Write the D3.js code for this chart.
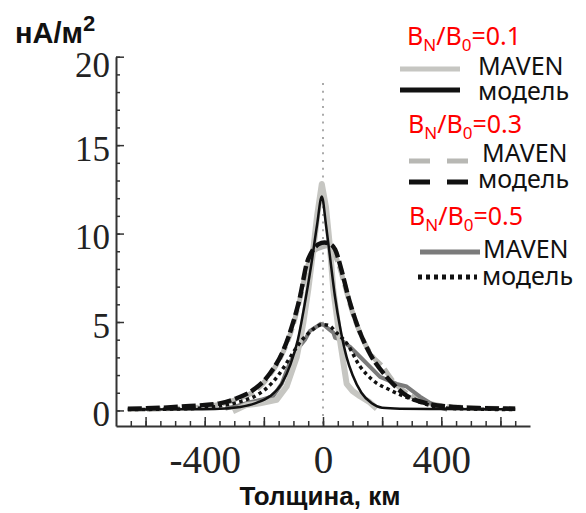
<!DOCTYPE html>
<html>
<head>
<meta charset="utf-8">
<script src="https://cdn.jsdelivr.net/npm/d3@7"></script>
<style>
  body { margin: 0; background: #fff; }
  svg { display: block; }
</style>
</head>
<body>
<div id="chart"></div>
<script>
var width = 586,
    height = 513;

// thickness in km and current density in nA/m^2
var maven01X = [-305, -260, -213, -157, -123, -89, -67, -50, -35, -20, -4, 10, 22, 35, 57, 80, 100, 125, 155, 182];
var maven01Y = [-0.05, 0.3, 0.4, 0.6, 1.35, 3.0, 4.9, 6.8, 8.8, 11.0, 12.8, 11.5, 9.5, 6.8, 4.0, 1.5, 1.1, 0.8, 0.5, 0.1];

var model01X = [-660, -450, -350, -280, -230, -180, -140, -110, -85, -62, -40, -20, -4, 10, 25, 40, 60, 80, 100, 130, 165, 200, 260, 400, 650];
var model01Y = [0.05, 0.07, 0.1, 0.2, 0.4, 0.8, 1.5, 2.6, 4.0, 6.0, 8.2, 10.5, 12.1, 10.5, 8.5, 6.5, 4.5, 3.0, 2.0, 1.0, 0.4, 0.15, 0.1, 0.08, 0.06];

var maven03X = [-660, -450, -350, -280, -230, -180, -135, -105, -78, -55, -30, -10, 10, 30, 50, 70, 95, 125, 165, 200, 240, 290, 350, 440, 650];
var maven03Y = [0.05, 0.15, 0.35, 0.7, 1.1, 2.0, 3.3, 4.6, 6.3, 8.0, 9.0, 9.2, 9.3, 9.1, 8.4, 7.3, 5.8, 4.4, 3.1, 2.5, 1.6, 0.9, 0.45, 0.2, 0.1];

var model03X = [-660, -550, -450, -350, -290, -236, -179, -134, -106, -78, -55, -33, -15, 5, 25, 41, 63, 86, 114, 159, 215, 271, 350, 440, 550, 650];
var model03Y = [0.1, 0.15, 0.25, 0.4, 0.7, 1.16, 2.1, 3.4, 4.7, 6.4, 8.3, 9.1, 9.4, 9.5, 9.4, 9.1, 7.9, 6.4, 4.9, 3.2, 1.9, 0.97, 0.4, 0.2, 0.12, 0.1];

var maven05X = [-330, -290, -250, -210, -169, -140, -112, -85, -61, -44, -25, -8, 5, 20, 35, 41, 60, 91, 136, 193, 249, 283, 328, 384, 420];
var maven05Y = [0.1, 0.25, 0.45, 0.6, 0.8, 1.5, 2.7, 3.5, 4.0, 4.5, 4.7, 4.9, 4.8, 4.6, 4.4, 4.1, 4.0, 3.6, 2.85, 1.9, 1.5, 1.35, 0.78, 0.2, 0.05];

var model05X = [-660, -450, -350, -280, -220, -170, -130, -100, -70, -40, -15, 0, 20, 45, 80, 125, 169, 226, 305, 384, 450, 650];
var model05Y = [0.05, 0.1, 0.25, 0.5, 0.9, 1.6, 2.5, 3.3, 4.0, 4.5, 4.8, 4.85, 4.8, 4.4, 3.8, 2.5, 1.7, 1.16, 0.6, 0.2, 0.1, 0.05];

var yMajorTicks = [0, 5, 10, 15, 20];
var xMajorTicks = [-600, -400, -200, 0, 200, 400, 600];
var xTickLabels = [-400, 0, 400];

var legendTitles = ["0.1", "0.3", "0.5"];
var legendNames = ["MAVEN", "модель"];

function zip(xs, ys) {
  return xs.map(function(x, i) { return { x: x, y: ys[i] }; });
}

// drawn bottom to top
var series = [
  { data: zip(maven03X, maven03Y), color: "#b8b8b4", width: 5, dash: "14,5", smooth: true },
  { data: zip(maven05X, maven05Y), color: "#7b7b7b", width: 4, dash: null, smooth: false },
  { data: zip(maven01X, maven01Y), color: "#c6c6c2", width: 6, dash: null, smooth: false },
  { data: zip(model05X, model05Y), color: "#111", width: 3.5, dash: "3.5,3.5", smooth: true },
  { data: zip(model03X, model03Y), color: "#111", width: 4.5, dash: "14,4", smooth: true },
  { data: zip(model01X, model01Y), color: "#111", width: 2.5, dash: null, smooth: true }
];

var x = d3.scaleLinear().domain([-700, 700]).range([116, 530]);
var y = d3.scaleLinear().domain([-0.88, 20]).range([426, 56.7]);

var svg = d3.select("#chart").append("svg")
    .attr("width", width)
    .attr("height", height);

// zero line
svg.append("line")
    .attr("x1", x(0)).attr("x2", x(0))
    .attr("y1", 83).attr("y2", y.range()[0])
    .attr("stroke", "#aaa")
    .attr("stroke-width", 2)
    .attr("stroke-dasharray", "2,5.7");

// curves
var lineSmooth = d3.line().x(function(d) { return x(d.x); }).y(function(d) { return y(d.y); }).curve(d3.curveMonotoneX);
var lineRough = d3.line().x(function(d) { return x(d.x); }).y(function(d) { return y(d.y); }).curve(d3.curveLinear);

svg.append("g").selectAll("path")
    .data(series)
    .enter().append("path")
    .attr("d", function(d) { return (d.smooth ? lineSmooth : lineRough)(d.data); })
    .attr("fill", "none")
    .attr("stroke", function(d) { return d.color; })
    .attr("stroke-width", function(d) { return d.width; })
    .attr("stroke-dasharray", function(d) { return d.dash; })
    .attr("stroke-linejoin", "round");

// axes: ticks point into the plot
var yMinor = d3.range(0, 21, 1);
var xMinor = d3.range(-650, 651, 50);

svg.append("g")
    .attr("transform", "translate(" + x.range()[0] + ",0)")
    .call(d3.axisLeft(y).tickValues(yMinor).tickSize(-4).tickFormat(""))
    .call(function(g) { g.select(".domain").remove(); });

var yAxis = svg.append("g")
    .attr("transform", "translate(" + x.range()[0] + ",0)")
    .call(d3.axisLeft(y).tickValues(yMajorTicks).tickSize(-8).tickSizeOuter(0).tickPadding(6));

svg.append("g")
    .attr("transform", "translate(0," + y.range()[0] + ")")
    .call(d3.axisBottom(x).tickValues(xMinor).tickSize(-5).tickFormat(""))
    .call(function(g) { g.select(".domain").remove(); });

var xAxis = svg.append("g")
    .attr("transform", "translate(0," + y.range()[0] + ")")
    .call(d3.axisBottom(x).tickValues(xMajorTicks).tickSize(-9).tickSizeOuter(0)
      .tickFormat(function(d) { return xTickLabels.indexOf(d) >= 0 ? String(d).replace("−", "-") : ""; }));

[xAxis, yAxis].forEach(function(g) {
  g.select(".domain").attr("stroke", "#333").attr("stroke-width", 2);
});
svg.selectAll(".tick line").attr("stroke", "#333").attr("stroke-width", 1.5);

yAxis.selectAll(".tick text")
    .style("font-family", "Liberation Serif")
    .style("font-size", "35px")
    .attr("fill", "#222")
    .attr("dy", 0)
    .attr("y", function(d) { return d === 20 ? 20 : 15; });

xAxis.selectAll(".tick text")
    .style("font-family", "Liberation Serif")
    .style("font-size", "39px")
    .attr("fill", "#222")
    .attr("dy", 0)
    .attr("y", 47);

// axis titles
svg.append("text")
    .attr("x", 15).attr("y", 43)
    .style("font-family", "Liberation Sans")
    .style("font-weight", "bold")
    .style("font-size", "29px")
    .attr("fill", "#111")
    .text("нА/м")
  .append("tspan")
    .attr("dy", -12)
    .style("font-size", "22px")
    .text("2");

svg.append("text")
    .attr("x", 320).attr("y", 505)
    .attr("text-anchor", "middle")
    .style("font-family", "Liberation Sans")
    .style("font-weight", "bold")
    .style("font-size", "26px")
    .attr("fill", "#111")
    .text("Толщина, км");

// legend
var titlePos = [[407, 45], [408, 133], [409, 225]];
var legendRows = [
  { x1: 400, x2: 460, y: 69, tx: 478, ty: 75, s: series[2] },
  { x1: 400, x2: 460, y: 90, tx: 478, ty: 100, s: series[5] },
  { x1: 409, x2: 468, y: 161, tx: 482, ty: 162, s: series[0], dash: "21,17" },
  { x1: 409, x2: 468, y: 182, tx: 478, ty: 188, s: series[4], dash: "21,17" },
  { x1: 420, x2: 480, y: 252, tx: 483, ty: 258, s: series[1] },
  { x1: 418, x2: 477, y: 277, tx: 482, ty: 285, s: series[3], dash: "4,4" }
];

var legend = svg.append("g");

legend.selectAll(".title")
    .data(legendTitles)
    .enter().append("text")
    .attr("class", "title")
    .attr("x", function(d, i) { return titlePos[i][0]; })
    .attr("y", function(d, i) { return titlePos[i][1]; })
    .style("font-family", "Noto Sans")
    .style("font-size", "25px")
    .attr("fill", "#f00")
    .each(function(d) {
      var t = d3.select(this);
      t.append("tspan").text("B");
      t.append("tspan").attr("dy", 6).style("font-size", "17px").text("N");
      t.append("tspan").attr("dy", -6).text("/B");
      t.append("tspan").attr("dy", 6).style("font-size", "17px").text("0");
      t.append("tspan").attr("dy", -6).text("=" + d);
    });

legend.selectAll("line")
    .data(legendRows)
    .enter().append("line")
    .attr("x1", function(d) { return d.x1; })
    .attr("x2", function(d) { return d.x2; })
    .attr("y1", function(d) { return d.y; })
    .attr("y2", function(d) { return d.y; })
    .attr("stroke", function(d) { return d.s.color; })
    .attr("stroke-width", 5)
    .attr("stroke-dasharray", function(d) { return d.dash || null; });

legend.selectAll(".name")
    .data(legendRows)
    .enter().append("text")
    .attr("class", "name")
    .attr("x", function(d) { return d.tx; })
    .attr("y", function(d) { return d.ty; })
    .style("font-family", "Noto Sans")
    .style("font-size", "25px")
    .attr("fill", "#111")
    .text(function(d, i) { return legendNames[i % 2]; });
</script>
</body>
</html>
